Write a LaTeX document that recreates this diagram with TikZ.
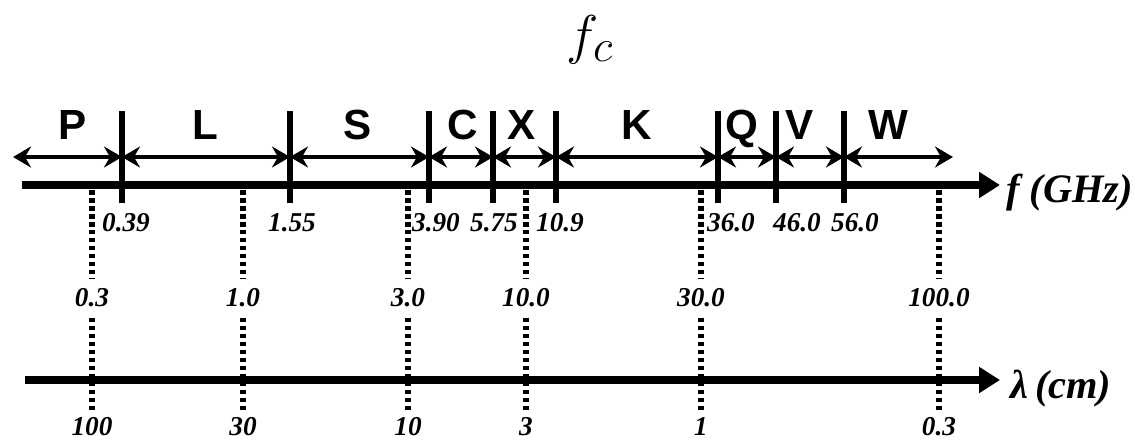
\documentclass[tikz,border=0pt]{standalone}
\usepackage{fontspec}
\setmainfont{Liberation Serif}
\setsansfont{Liberation Sans}
\usetikzlibrary{arrows.meta}

\begin{document}
\begin{tikzpicture}[
  x=0.02cm, y=-0.02cm,
  band/.style={font=\sffamily\bfseries\fontsize{24}{28}\selectfont,inner sep=0pt,anchor=base},
  freq/.style={font=\bfseries\itshape\fontsize{15.5}{18}\selectfont,inner sep=0pt},
  midlabel/.style={font=\bfseries\itshape\fontsize{15.5}{18}\selectfont,inner sep=0.2cm},
  cmlabel/.style={font=\bfseries\itshape\fontsize{15.5}{18}\selectfont,inner sep=0pt},
  axislabel/.style={font=\bfseries\itshape\fontsize{23}{27}\selectfont,anchor=base west,inner sep=0pt},
  mainaxis/.style={line width=0.17cm,-{Triangle[length=0.42cm,width=0.5cm]}},
  divider/.style={line width=0.12cm},
  bandspan/.style={line width=0.07cm,{Stealth[length=0.36cm,width=0.42cm,inset=0.12cm]}-{Stealth[length=0.36cm,width=0.42cm,inset=0.12cm]}},
  dotline/.style={line width=0.12cm,dash pattern=on 0.09cm off 0.07cm},
]
\useasboundingbox (0,0) rectangle (1135,440);

% Title
\node[font=\Huge,scale=1.25] (fc) at (590,40) {$f_c$};

% Frequency axis
\coordinate (fstart) at (22,185);
\coordinate (fend) at (1000,185);
\draw[mainaxis] (fstart) -- (fend);
\node[axislabel] (fghz) at (1006,202) {f (GHz)};

% Band edges
\coordinate (e0) at (13,157);
\coordinate (e1) at (122,157);
\coordinate (e2) at (290,157);
\coordinate (e3) at (429,157);
\coordinate (e4) at (493,157);
\coordinate (e5) at (556,157);
\coordinate (e6) at (718,157);
\coordinate (e7) at (776,157);
\coordinate (e8) at (844,157);
\coordinate (e9) at (953,157);

% Dividers
\draw[divider] (122,111) -- (122,203);
\draw[divider] (290,111) -- (290,203);
\draw[divider] (429,111) -- (429,203);
\draw[divider] (493,111) -- (493,203);
\draw[divider] (556,111) -- (556,203);
\draw[divider] (718,111) -- (718,203);
\draw[divider] (776,111) -- (776,203);
\draw[divider] (844,111) -- (844,203);

% Bands
\draw[bandspan] (e0) -- (e1);
\draw[bandspan] (e1) -- (e2);
\draw[bandspan] (e2) -- (e3);
\draw[bandspan] (e3) -- (e4);
\draw[bandspan] (e4) -- (e5);
\draw[bandspan] (e5) -- (e6);
\draw[bandspan] (e6) -- (e7);
\draw[bandspan] (e7) -- (e8);
\draw[bandspan] (e8) -- (e9);

\node[band] (bandP) at (73,139) {P};
\node[band] (bandL) at (205,139) {L};
\node[band] (bandS) at (358,139) {S};
\node[band] (bandC) at (463,139) {C};
\node[band] (bandX) at (522,139) {X};
\node[band] (bandK) at (637,139) {K};
\node[band] (bandQ) at (742,139) {Q};
\node[band] (bandV) at (800,139) {V};
\node[band] (bandW) at (888,139) {W};

% Band limits (GHz)
\node[freq] (f1) at (126,223) {0.39};
\node[freq] (f2) at (292,223) {1.55};
\node[freq] (f3) at (436,223) {3.90};
\node[freq] (f4) at (494,223) {5.75};
\node[freq] (f5) at (560,223) {10.9};
\node[freq] (f6) at (731,223) {36.0};
\node[freq] (f7) at (797,223) {46.0};
\node[freq] (f8) at (855,223) {56.0};

% Wavelength axis
\coordinate (lstart) at (25,380);
\coordinate (lend) at (1000,380);
\draw[mainaxis] (lstart) -- (lend);
\node[axislabel] (lcm) at (1010,398) {λ\,(cm)};

% Matching marks
\node[midlabel] (m1) at (92,298) {0.3};
\node[midlabel] (m2) at (243,298) {1.0};
\node[midlabel] (m3) at (408,298) {3.0};
\node[midlabel] (m4) at (526,298) {10.0};
\node[midlabel] (m5) at (701,298) {30.0};
\node[midlabel] (m6) at (939,298) {100.0};

\node[cmlabel] (w1) at (92,427) {100};
\node[cmlabel] (w2) at (243,427) {30};
\node[cmlabel] (w3) at (408,427) {10};
\node[cmlabel] (w4) at (526,427) {3};
\node[cmlabel] (w5) at (701,427) {1};
\node[cmlabel] (w6) at (939,427) {0.3};

\coordinate (p1) at (92,190);
\coordinate (p2) at (243,190);
\coordinate (p3) at (408,190);
\coordinate (p4) at (526,190);
\coordinate (p5) at (701,190);
\coordinate (p6) at (939,190);

\draw[dotline] (p1) -- (m1.north);
\draw[dotline] (p2) -- (m2.north);
\draw[dotline] (p3) -- (m3.north);
\draw[dotline] (p4) -- (m4.north);
\draw[dotline] (p5) -- (m5.north);
\draw[dotline] (p6) -- (m6.north);

\draw[dotline,shorten >=0.14cm] (m1.south) -- (w1.north);
\draw[dotline,shorten >=0.14cm] (m2.south) -- (w2.north);
\draw[dotline,shorten >=0.14cm] (m3.south) -- (w3.north);
\draw[dotline,shorten >=0.14cm] (m4.south) -- (w4.north);
\draw[dotline,shorten >=0.14cm] (m5.south) -- (w5.north);
\draw[dotline,shorten >=0.14cm] (m6.south) -- (w6.north);

\end{tikzpicture}
\end{document}
